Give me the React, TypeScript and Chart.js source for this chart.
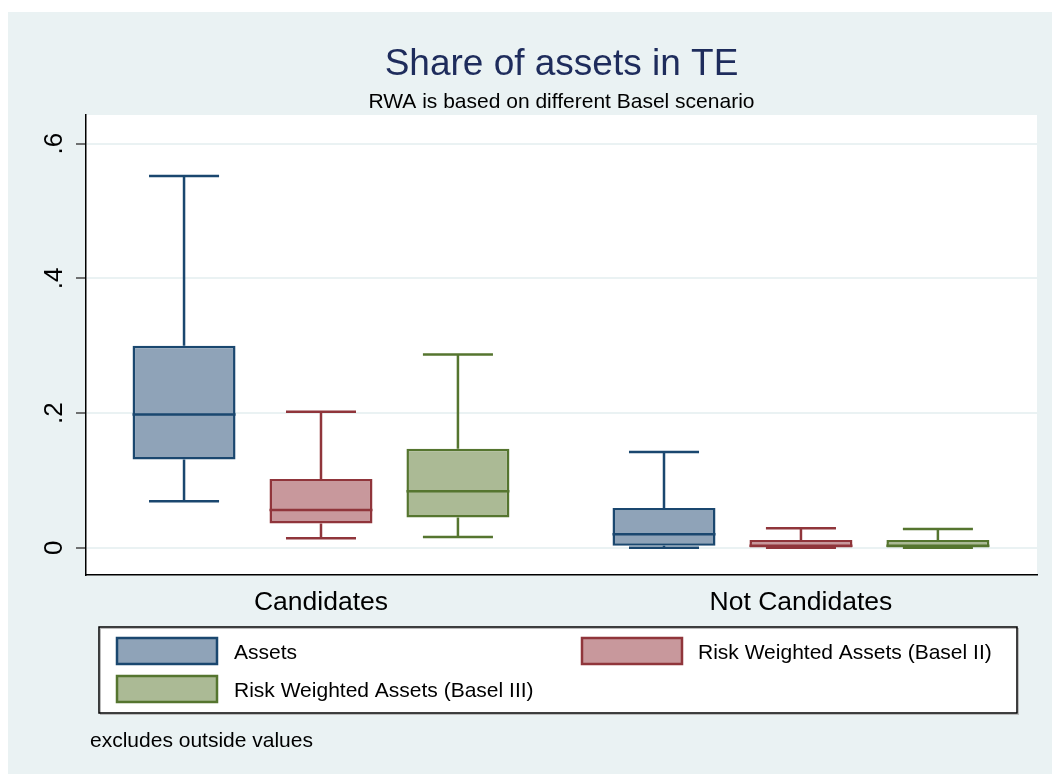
import React, { useEffect, useRef } from 'react';
import { Chart, registerables } from 'chart.js';

Chart.register(...registerables);

const categories = ['Candidates', 'Not Candidates'];
const seriesNames = ['Assets', 'Risk Weighted Assets (Basel II)', 'Risk Weighted Assets (Basel III)'];

const assetsMin = [0.069, 0.0];
const assetsQ1 = [0.131, 0.003];
const assetsMedian = [0.198, 0.020];
const assetsQ3 = [0.300, 0.059];
const assetsMax = [0.552, 0.142];

const basel2Min = [0.014, 0.0];
const basel2Q1 = [0.036, 0.0005];
const basel2Median = [0.056, 0.003];
const basel2Q3 = [0.102, 0.0115];
const basel2Max = [0.202, 0.029];

const basel3Min = [0.016, 0.0];
const basel3Q1 = [0.045, 0.0005];
const basel3Median = [0.084, 0.003];
const basel3Q3 = [0.147, 0.0115];
const basel3Max = [0.287, 0.028];

const yTicks = [0, 0.2, 0.4, 0.6];
const yTickLabels = ['0', '.2', '.4', '.6'];

const titleText = 'Share of assets in TE';
const subtitleText = 'RWA is based on different Basel scenario';
const noteText = 'excludes outside values';

const lineColors = ['#1A476F', '#90353B', '#55752F'];
const fillColors = ['#8FA3B8', '#C8989C', '#ABBA95'];

const FONT = "'Liberation Sans', Arial, Helvetica, sans-serif";
const BG = '#EAF2F3';

const statsList = [
  { min: assetsMin, q1: assetsQ1, med: assetsMedian, q3: assetsQ3, max: assetsMax },
  { min: basel2Min, q1: basel2Q1, med: basel2Median, q3: basel2Q3, max: basel2Max },
  { min: basel3Min, q1: basel3Q1, med: basel3Median, q3: basel3Q3, max: basel3Max },
];

const bgPlugin = {
  id: 'stataBg',
  beforeDraw(chart: any) {
    const { ctx, chartArea } = chart;
    ctx.save();
    ctx.fillStyle = BG;
    ctx.fillRect(0, 0, chart.width, chart.height);
    ctx.fillStyle = '#FFFFFF';
    ctx.fillRect(chartArea.left, chartArea.top, chartArea.right - chartArea.left, chartArea.bottom - chartArea.top);
    const cx = (chartArea.left + chartArea.right) / 2;
    ctx.textAlign = 'center';
    ctx.textBaseline = 'alphabetic';
    ctx.fillStyle = '#1E2C5C';
    ctx.font = `37px ${FONT}`;
    ctx.fillText(titleText, cx, 63);
    ctx.fillStyle = '#000000';
    ctx.font = `21px ${FONT}`;
    ctx.fillText(subtitleText, cx, 96);
    ctx.restore();
  },
};

const whiskerPlugin = {
  id: 'whiskers',
  afterDatasetsDraw(chart: any) {
    const { ctx } = chart;
    const yScale = chart.scales.y;
    chart.data.datasets.forEach((ds: any, di: number) => {
      const meta = chart.getDatasetMeta(di);
      const st = statsList[di];
      meta.data.forEach((bar: any, i: number) => {
        const { x, width } = bar.getProps(['x', 'width'], true);
        const capHalf = width * 0.34;
        const yMin = yScale.getPixelForValue(st.min[i]);
        const yQ1 = yScale.getPixelForValue(st.q1[i]);
        const yMed = yScale.getPixelForValue(st.med[i]);
        const yQ3 = yScale.getPixelForValue(st.q3[i]);
        const yMax = yScale.getPixelForValue(st.max[i]);
        ctx.save();
        ctx.strokeStyle = lineColors[di];
        ctx.lineWidth = 2.5;
        ctx.lineCap = 'butt';
        ctx.beginPath();
        ctx.moveTo(x, yQ3);
        ctx.lineTo(x, yMax);
        ctx.moveTo(x - capHalf, yMax);
        ctx.lineTo(x + capHalf, yMax);
        ctx.moveTo(x, yQ1);
        ctx.lineTo(x, yMin);
        ctx.moveTo(x - capHalf, yMin);
        ctx.lineTo(x + capHalf, yMin);
        ctx.moveTo(x - width / 2, yMed);
        ctx.lineTo(x + width / 2, yMed);
        ctx.stroke();
        ctx.restore();
      });
    });
  },
};

const legendPlugin = {
  id: 'stataLegend',
  afterDraw(chart: any) {
    const { ctx } = chart;
    ctx.save();
    const bx = 91, by = 615, bw = 918, bh = 86;
    ctx.fillStyle = '#FFFFFF';
    ctx.fillRect(bx, by, bw, bh);
    ctx.strokeStyle = '#BBBBBB';
    ctx.lineWidth = 1;
    ctx.strokeRect(bx + 1.5, by + 1.5, bw, bh);
    ctx.strokeStyle = '#000000';
    ctx.lineWidth = 1.5;
    ctx.strokeRect(bx, by, bw, bh);
    const slots = [
      { sx: 109, sy: 626, tx: 226 },
      { sx: 574, sy: 626, tx: 690 },
      { sx: 109, sy: 664, tx: 226 },
    ];
    ctx.font = `21px ${FONT}`;
    ctx.textBaseline = 'middle';
    ctx.textAlign = 'left';
    chart.data.datasets.forEach((ds: any, di: number) => {
      const s = slots[di];
      ctx.fillStyle = fillColors[di];
      ctx.fillRect(s.sx, s.sy, 100, 26);
      ctx.strokeStyle = lineColors[di];
      ctx.lineWidth = 2.5;
      ctx.strokeRect(s.sx, s.sy, 100, 26);
      ctx.fillStyle = '#000000';
      ctx.fillText(ds.label, s.tx, s.sy + 15);
    });
    ctx.font = `21px ${FONT}`;
    ctx.fillStyle = '#000000';
    ctx.fillText(noteText, 82, 729);
    ctx.restore();
  },
};

export default function App() {
  const ref = useRef<HTMLCanvasElement | null>(null);
  useEffect(() => {
    if (!ref.current) return;
    const chart = new Chart(ref.current, {
      type: 'bar',
      data: {
        labels: categories,
        datasets: seriesNames.map((name, di) => ({
          label: name,
          data: categories.map((_, i) => [statsList[di].q1[i], statsList[di].q3[i]]),
          backgroundColor: fillColors[di],
          borderColor: lineColors[di],
          borderWidth: 2.5,
          borderSkipped: false,
          categoryPercentage: 0.856,
          barPercentage: 0.752,
        })),
      },
      options: {
        responsive: false,
        animation: false,
        devicePixelRatio: 1,
        layout: { padding: { left: 0, right: 15, top: 103, bottom: 149 } },
        plugins: {
          legend: { display: false },
          tooltip: { enabled: false },
          title: { display: false },
          subtitle: { display: false },
        },
        scales: {
          x: {
            type: 'category',
            grid: { display: false, drawTicks: false },
            border: { display: true, color: '#000000', width: 1.5 },
            ticks: { color: '#000000', font: { family: FONT, size: 26.5 }, padding: 12 },
            afterFit: (scale: any) => { scale.height = 50; },
            afterBuildTicks: (scale: any) => {
              // Stata places the two groups slightly wider apart than an even split
              scale._startValue = -0.4896;
              scale._valueRange = 1.9814;
            },
          },
          y: {
            min: -0.0405,
            max: 0.6427,
            grid: { color: BG, lineWidth: 2, tickLength: 10, tickColor: '#444444', tickWidth: 1.5 },
            border: { display: true, color: '#000000', width: 1.5 },
            afterBuildTicks: (scale: any) => { scale.ticks = yTicks.map((v) => ({ value: v })); },
            afterFit: (scale: any) => { scale.width = 78; },
            ticks: {
              color: '#000000',
              font: { family: FONT, size: 26 },
              minRotation: 90,
              maxRotation: 90,
              crossAlign: 'center',
              padding: 10,
              callback: (v: any) => {
                const idx = yTicks.findIndex((t) => Math.abs(t - Number(v)) < 1e-9);
                return idx >= 0 ? yTickLabels[idx] : '';
              },
            },
          },
        },
      },
      plugins: [bgPlugin, whiskerPlugin, legendPlugin],
    } as any);
    return () => chart.destroy();
  }, []);
  return (
    <div style={{ position: 'fixed', left: 8, top: 12, width: 1044, height: 762 }}>
      <canvas ref={ref} width={1044} height={762} style={{ display: 'block' }} />
    </div>
  );
}
